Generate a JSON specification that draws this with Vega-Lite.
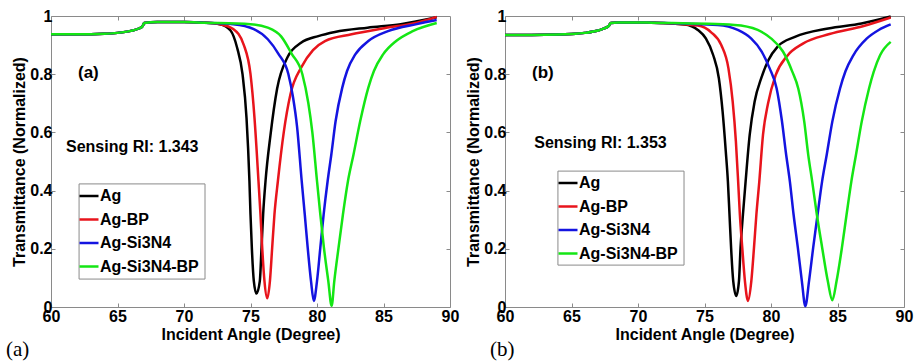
{
  "$schema": "https://vega.github.io/schema/vega-lite/v6.json",
  "background": "white",
  "padding": {"left": 5, "top": 7, "right": 2, "bottom": 0},
  "config": {
    "view": {"stroke": "#8a8a8a", "strokeWidth": 1},
    "font": "Liberation Sans",
    "axis": {"grid": false, "domain": false, "tickColor": "#8a8a8a", "tickSize": -4, "tickWidth": 1,
      "labelFont": "Liberation Sans", "labelFontSize": 16, "labelFontWeight": "bold", "labelColor": "black",
      "titleFont": "Liberation Sans", "titleFontSize": 16, "titleFontWeight": "bold", "titleColor": "black",
      "labelFlush": false, "labelOverlap": false},
    "axisX": {"labelPadding": 5, "titlePadding": 2},
    "axisY": {"labelPadding": 3, "titlePadding": 2},
    "legend": {"symbolType": "stroke", "symbolSize": 361, "symbolStrokeWidth": 2.5,
      "labelFont": "Liberation Sans", "labelFontSize": 16, "labelFontWeight": "bold", "labelColor": "black",
      "padding": 4, "rowPadding": 4.5, "labelOffset": 0, "labelLimit": 0}
  },
  "datasets": {
    "a": [
      {"series":"Ag","angle":60,"T":0.937},{"series":"Ag","angle":62,"T":0.937},{"series":"Ag","angle":64,"T":0.939},{"series":"Ag","angle":65,"T":0.942},{"series":"Ag","angle":66,"T":0.949},{"series":"Ag","angle":66.6,"T":0.957},{"series":"Ag","angle":66.9,"T":0.966},{"series":"Ag","angle":67,"T":0.976},{"series":"Ag","angle":68,"T":0.979},{"series":"Ag","angle":70,"T":0.979},{"series":"Ag","angle":71.5,"T":0.977},{"series":"Ag","angle":72.7,"T":0.972},{"series":"Ag","angle":73.5,"T":0.95},{"series":"Ag","angle":74,"T":0.89},{"series":"Ag","angle":74.4,"T":0.8},{"series":"Ag","angle":74.7,"T":0.65},{"series":"Ag","angle":74.92,"T":0.433},{"series":"Ag","angle":75,"T":0.318},{"series":"Ag","angle":75.1,"T":0.204},{"series":"Ag","angle":75.25,"T":0.089},{"series":"Ag","angle":75.45,"T":0.046},{"series":"Ag","angle":75.7,"T":0.089},{"series":"Ag","angle":75.83,"T":0.204},{"series":"Ag","angle":75.95,"T":0.318},{"series":"Ag","angle":76.13,"T":0.433},{"series":"Ag","angle":76.5,"T":0.59},{"series":"Ag","angle":77,"T":0.75},{"series":"Ag","angle":77.8,"T":0.86},{"series":"Ag","angle":78.8,"T":0.908},{"series":"Ag","angle":80.1,"T":0.931},{"series":"Ag","angle":81.35,"T":0.945},{"series":"Ag","angle":83.8,"T":0.96},{"series":"Ag","angle":86.3,"T":0.972},{"series":"Ag","angle":89,"T":0.996},
      {"series":"Ag-BP","angle":60,"T":0.937},{"series":"Ag-BP","angle":62,"T":0.937},{"series":"Ag-BP","angle":64,"T":0.939},{"series":"Ag-BP","angle":65,"T":0.942},{"series":"Ag-BP","angle":66,"T":0.949},{"series":"Ag-BP","angle":66.6,"T":0.957},{"series":"Ag-BP","angle":66.9,"T":0.966},{"series":"Ag-BP","angle":67,"T":0.976},{"series":"Ag-BP","angle":68,"T":0.979},{"series":"Ag-BP","angle":70,"T":0.979},{"series":"Ag-BP","angle":71.5,"T":0.977},{"series":"Ag-BP","angle":72.7,"T":0.972},{"series":"Ag-BP","angle":73.7,"T":0.955},{"series":"Ag-BP","angle":74.5,"T":0.9},{"series":"Ag-BP","angle":75,"T":0.8},{"series":"Ag-BP","angle":75.3,"T":0.65},{"series":"Ag-BP","angle":75.6,"T":0.433},{"series":"Ag-BP","angle":75.75,"T":0.318},{"series":"Ag-BP","angle":75.88,"T":0.204},{"series":"Ag-BP","angle":76.05,"T":0.089},{"series":"Ag-BP","angle":76.26,"T":0.03},{"series":"Ag-BP","angle":76.46,"T":0.089},{"series":"Ag-BP","angle":76.63,"T":0.204},{"series":"Ag-BP","angle":76.8,"T":0.318},{"series":"Ag-BP","angle":77.06,"T":0.433},{"series":"Ag-BP","angle":77.5,"T":0.6},{"series":"Ag-BP","angle":78,"T":0.73},{"series":"Ag-BP","angle":78.85,"T":0.826},{"series":"Ag-BP","angle":79.7,"T":0.883},{"series":"Ag-BP","angle":80.6,"T":0.914},{"series":"Ag-BP","angle":82.6,"T":0.937},{"series":"Ag-BP","angle":85.05,"T":0.958},{"series":"Ag-BP","angle":87.5,"T":0.977},{"series":"Ag-BP","angle":89,"T":0.997},
      {"series":"Ag-Si3N4","angle":60,"T":0.937},{"series":"Ag-Si3N4","angle":62,"T":0.937},{"series":"Ag-Si3N4","angle":64,"T":0.939},{"series":"Ag-Si3N4","angle":65,"T":0.942},{"series":"Ag-Si3N4","angle":66,"T":0.949},{"series":"Ag-Si3N4","angle":66.6,"T":0.957},{"series":"Ag-Si3N4","angle":66.9,"T":0.966},{"series":"Ag-Si3N4","angle":67,"T":0.976},{"series":"Ag-Si3N4","angle":68,"T":0.979},{"series":"Ag-Si3N4","angle":70,"T":0.979},{"series":"Ag-Si3N4","angle":71.5,"T":0.977},{"series":"Ag-Si3N4","angle":73.7,"T":0.972},{"series":"Ag-Si3N4","angle":75.25,"T":0.955},{"series":"Ag-Si3N4","angle":76.3,"T":0.92},{"series":"Ag-Si3N4","angle":77.1,"T":0.87},{"series":"Ag-Si3N4","angle":77.85,"T":0.8},{"series":"Ag-Si3N4","angle":78.2,"T":0.72},{"series":"Ag-Si3N4","angle":78.5,"T":0.62},{"series":"Ag-Si3N4","angle":78.85,"T":0.433},{"series":"Ag-Si3N4","angle":79.08,"T":0.318},{"series":"Ag-Si3N4","angle":79.3,"T":0.204},{"series":"Ag-Si3N4","angle":79.55,"T":0.089},{"series":"Ag-Si3N4","angle":79.76,"T":0.021},{"series":"Ag-Si3N4","angle":80,"T":0.089},{"series":"Ag-Si3N4","angle":80.25,"T":0.204},{"series":"Ag-Si3N4","angle":80.5,"T":0.318},{"series":"Ag-Si3N4","angle":80.8,"T":0.433},{"series":"Ag-Si3N4","angle":81.08,"T":0.525},{"series":"Ag-Si3N4","angle":81.4,"T":0.639},{"series":"Ag-Si3N4","angle":81.9,"T":0.754},{"series":"Ag-Si3N4","angle":82.26,"T":0.811},{"series":"Ag-Si3N4","angle":82.88,"T":0.868},{"series":"Ag-Si3N4","angle":83.86,"T":0.914},{"series":"Ag-Si3N4","angle":85.34,"T":0.948},{"series":"Ag-Si3N4","angle":87.5,"T":0.972},{"series":"Ag-Si3N4","angle":89,"T":0.986},
      {"series":"Ag-Si3N4-BP","angle":60,"T":0.937},{"series":"Ag-Si3N4-BP","angle":62,"T":0.937},{"series":"Ag-Si3N4-BP","angle":64,"T":0.939},{"series":"Ag-Si3N4-BP","angle":65,"T":0.942},{"series":"Ag-Si3N4-BP","angle":66,"T":0.949},{"series":"Ag-Si3N4-BP","angle":66.6,"T":0.957},{"series":"Ag-Si3N4-BP","angle":66.9,"T":0.966},{"series":"Ag-Si3N4-BP","angle":67,"T":0.976},{"series":"Ag-Si3N4-BP","angle":68,"T":0.979},{"series":"Ag-Si3N4-BP","angle":70,"T":0.979},{"series":"Ag-Si3N4-BP","angle":71.5,"T":0.977},{"series":"Ag-Si3N4-BP","angle":75,"T":0.972},{"series":"Ag-Si3N4-BP","angle":76.3,"T":0.96},{"series":"Ag-Si3N4-BP","angle":77.3,"T":0.93},{"series":"Ag-Si3N4-BP","angle":78.1,"T":0.87},{"series":"Ag-Si3N4-BP","angle":78.9,"T":0.8},{"series":"Ag-Si3N4-BP","angle":79.35,"T":0.7},{"series":"Ag-Si3N4-BP","angle":79.65,"T":0.6},{"series":"Ag-Si3N4-BP","angle":80,"T":0.433},{"series":"Ag-Si3N4-BP","angle":80.25,"T":0.318},{"series":"Ag-Si3N4-BP","angle":80.52,"T":0.204},{"series":"Ag-Si3N4-BP","angle":80.85,"T":0.089},{"series":"Ag-Si3N4-BP","angle":81.1,"T":0.004},{"series":"Ag-Si3N4-BP","angle":81.3,"T":0.089},{"series":"Ag-Si3N4-BP","angle":81.62,"T":0.204},{"series":"Ag-Si3N4-BP","angle":81.95,"T":0.318},{"series":"Ag-Si3N4-BP","angle":82.33,"T":0.433},{"series":"Ag-Si3N4-BP","angle":82.75,"T":0.525},{"series":"Ag-Si3N4-BP","angle":83.25,"T":0.639},{"series":"Ag-Si3N4-BP","angle":83.86,"T":0.754},{"series":"Ag-Si3N4-BP","angle":84.28,"T":0.811},{"series":"Ag-Si3N4-BP","angle":84.97,"T":0.868},{"series":"Ag-Si3N4-BP","angle":85.95,"T":0.914},{"series":"Ag-Si3N4-BP","angle":87.2,"T":0.948},{"series":"Ag-Si3N4-BP","angle":89,"T":0.976}
    ],
    "b": [
      {"series":"Ag","angle":60,"T":0.935},{"series":"Ag","angle":62,"T":0.935},{"series":"Ag","angle":64,"T":0.936},{"series":"Ag","angle":65,"T":0.938},{"series":"Ag","angle":66,"T":0.942},{"series":"Ag","angle":67,"T":0.95},{"series":"Ag","angle":67.5,"T":0.958},{"series":"Ag","angle":67.8,"T":0.966},{"series":"Ag","angle":67.95,"T":0.976},{"series":"Ag","angle":68.5,"T":0.978},{"series":"Ag","angle":70,"T":0.978},{"series":"Ag","angle":71,"T":0.977},{"series":"Ag","angle":73.5,"T":0.971},{"series":"Ag","angle":74.5,"T":0.952},{"series":"Ag","angle":75.1,"T":0.923},{"series":"Ag","angle":75.65,"T":0.866},{"series":"Ag","angle":76.08,"T":0.786},{"series":"Ag","angle":76.36,"T":0.672},{"series":"Ag","angle":76.6,"T":0.535},{"series":"Ag","angle":76.76,"T":0.431},{"series":"Ag","angle":76.88,"T":0.317},{"series":"Ag","angle":77,"T":0.203},{"series":"Ag","angle":77.16,"T":0.089},{"series":"Ag","angle":77.39,"T":0.038},{"series":"Ag","angle":77.59,"T":0.089},{"series":"Ag","angle":77.71,"T":0.203},{"series":"Ag","angle":77.89,"T":0.317},{"series":"Ag","angle":78.09,"T":0.431},{"series":"Ag","angle":78.4,"T":0.592},{"series":"Ag","angle":78.77,"T":0.706},{"series":"Ag","angle":79.28,"T":0.788},{"series":"Ag","angle":79.8,"T":0.848},{"series":"Ag","angle":80.5,"T":0.895},{"series":"Ag","angle":81.8,"T":0.928},{"series":"Ag","angle":84.3,"T":0.957},{"series":"Ag","angle":86.8,"T":0.974},{"series":"Ag","angle":89,"T":0.998},
      {"series":"Ag-BP","angle":60,"T":0.935},{"series":"Ag-BP","angle":62,"T":0.935},{"series":"Ag-BP","angle":64,"T":0.936},{"series":"Ag-BP","angle":65,"T":0.938},{"series":"Ag-BP","angle":66,"T":0.942},{"series":"Ag-BP","angle":67,"T":0.95},{"series":"Ag-BP","angle":67.5,"T":0.958},{"series":"Ag-BP","angle":67.8,"T":0.966},{"series":"Ag-BP","angle":67.95,"T":0.976},{"series":"Ag-BP","angle":68.5,"T":0.978},{"series":"Ag-BP","angle":70,"T":0.978},{"series":"Ag-BP","angle":71,"T":0.977},{"series":"Ag-BP","angle":74.5,"T":0.967},{"series":"Ag-BP","angle":75.5,"T":0.944},{"series":"Ag-BP","angle":76.26,"T":0.9},{"series":"Ag-BP","angle":76.8,"T":0.82},{"series":"Ag-BP","angle":77.12,"T":0.706},{"series":"Ag-BP","angle":77.36,"T":0.569},{"series":"Ag-BP","angle":77.53,"T":0.431},{"series":"Ag-BP","angle":77.66,"T":0.317},{"series":"Ag-BP","angle":77.84,"T":0.203},{"series":"Ag-BP","angle":78.04,"T":0.089},{"series":"Ag-BP","angle":78.27,"T":0.021},{"series":"Ag-BP","angle":78.52,"T":0.089},{"series":"Ag-BP","angle":78.72,"T":0.203},{"series":"Ag-BP","angle":78.9,"T":0.317},{"series":"Ag-BP","angle":79.12,"T":0.431},{"series":"Ag-BP","angle":79.4,"T":0.592},{"series":"Ag-BP","angle":79.78,"T":0.7},{"series":"Ag-BP","angle":80.35,"T":0.797},{"series":"Ag-BP","angle":81.2,"T":0.862},{"series":"Ag-BP","angle":82.4,"T":0.905},{"series":"Ag-BP","angle":84.4,"T":0.938},{"series":"Ag-BP","angle":86.9,"T":0.965},{"series":"Ag-BP","angle":89,"T":0.995},
      {"series":"Ag-Si3N4","angle":60,"T":0.935},{"series":"Ag-Si3N4","angle":62,"T":0.935},{"series":"Ag-Si3N4","angle":64,"T":0.936},{"series":"Ag-Si3N4","angle":65,"T":0.938},{"series":"Ag-Si3N4","angle":66,"T":0.942},{"series":"Ag-Si3N4","angle":67,"T":0.95},{"series":"Ag-Si3N4","angle":67.5,"T":0.958},{"series":"Ag-Si3N4","angle":67.8,"T":0.966},{"series":"Ag-Si3N4","angle":67.95,"T":0.976},{"series":"Ag-Si3N4","angle":68.5,"T":0.978},{"series":"Ag-Si3N4","angle":70,"T":0.978},{"series":"Ag-Si3N4","angle":71,"T":0.977},{"series":"Ag-Si3N4","angle":76,"T":0.969},{"series":"Ag-Si3N4","angle":77.5,"T":0.952},{"series":"Ag-Si3N4","angle":78.5,"T":0.923},{"series":"Ag-Si3N4","angle":79.3,"T":0.878},{"series":"Ag-Si3N4","angle":79.9,"T":0.82},{"series":"Ag-Si3N4","angle":80.42,"T":0.752},{"series":"Ag-Si3N4","angle":80.82,"T":0.64},{"series":"Ag-Si3N4","angle":81.12,"T":0.53},{"series":"Ag-Si3N4","angle":81.42,"T":0.431},{"series":"Ag-Si3N4","angle":81.7,"T":0.317},{"series":"Ag-Si3N4","angle":82.02,"T":0.203},{"series":"Ag-Si3N4","angle":82.32,"T":0.089},{"series":"Ag-Si3N4","angle":82.58,"T":0.003},{"series":"Ag-Si3N4","angle":82.86,"T":0.089},{"series":"Ag-Si3N4","angle":83.17,"T":0.203},{"series":"Ag-Si3N4","angle":83.5,"T":0.317},{"series":"Ag-Si3N4","angle":83.84,"T":0.431},{"series":"Ag-Si3N4","angle":84.19,"T":0.523},{"series":"Ag-Si3N4","angle":84.61,"T":0.637},{"series":"Ag-Si3N4","angle":85.19,"T":0.751},{"series":"Ag-Si3N4","angle":85.6,"T":0.81},{"series":"Ag-Si3N4","angle":86.19,"T":0.865},{"series":"Ag-Si3N4","angle":87.19,"T":0.922},{"series":"Ag-Si3N4","angle":88.1,"T":0.952},{"series":"Ag-Si3N4","angle":89,"T":0.971},
      {"series":"Ag-Si3N4-BP","angle":60,"T":0.935},{"series":"Ag-Si3N4-BP","angle":62,"T":0.935},{"series":"Ag-Si3N4-BP","angle":64,"T":0.936},{"series":"Ag-Si3N4-BP","angle":65,"T":0.938},{"series":"Ag-Si3N4-BP","angle":66,"T":0.942},{"series":"Ag-Si3N4-BP","angle":67,"T":0.95},{"series":"Ag-Si3N4-BP","angle":67.5,"T":0.958},{"series":"Ag-Si3N4-BP","angle":67.8,"T":0.966},{"series":"Ag-Si3N4-BP","angle":67.95,"T":0.976},{"series":"Ag-Si3N4-BP","angle":68.5,"T":0.978},{"series":"Ag-Si3N4-BP","angle":70,"T":0.978},{"series":"Ag-Si3N4-BP","angle":71,"T":0.977},{"series":"Ag-Si3N4-BP","angle":77.26,"T":0.969},{"series":"Ag-Si3N4-BP","angle":79,"T":0.952},{"series":"Ag-Si3N4-BP","angle":80,"T":0.923},{"series":"Ag-Si3N4-BP","angle":80.9,"T":0.878},{"series":"Ag-Si3N4-BP","angle":81.6,"T":0.809},{"series":"Ag-Si3N4-BP","angle":82.05,"T":0.751},{"series":"Ag-Si3N4-BP","angle":82.5,"T":0.637},{"series":"Ag-Si3N4-BP","angle":82.8,"T":0.523},{"series":"Ag-Si3N4-BP","angle":83.1,"T":0.431},{"series":"Ag-Si3N4-BP","angle":83.45,"T":0.317},{"series":"Ag-Si3N4-BP","angle":83.85,"T":0.203},{"series":"Ag-Si3N4-BP","angle":84.27,"T":0.089},{"series":"Ag-Si3N4-BP","angle":84.61,"T":0.023},{"series":"Ag-Si3N4-BP","angle":84.93,"T":0.089},{"series":"Ag-Si3N4-BP","angle":85.33,"T":0.203},{"series":"Ag-Si3N4-BP","angle":85.68,"T":0.317},{"series":"Ag-Si3N4-BP","angle":86.04,"T":0.431},{"series":"Ag-Si3N4-BP","angle":86.39,"T":0.523},{"series":"Ag-Si3N4-BP","angle":86.82,"T":0.637},{"series":"Ag-Si3N4-BP","angle":87.37,"T":0.751},{"series":"Ag-Si3N4-BP","angle":87.72,"T":0.808},{"series":"Ag-Si3N4-BP","angle":88.2,"T":0.865},{"series":"Ag-Si3N4-BP","angle":89,"T":0.911}
    ]
  },
  "bounds": "flush",
  "spacing": 55,
  "resolve": {"legend": {"color": "independent"}},
  "hconcat": [
    {
      "width": 399, "height": 291,
      "layer": [
        {
          "data": {"name": "a"},
          "mark": {"type": "line", "strokeWidth": 2.5, "interpolate": "monotone"},
          "encoding": {
            "x": {"field": "angle", "type": "quantitative", "scale": {"domain": [60, 90], "nice": false, "zero": false}, "axis": {"orient": "bottom", "values": [60, 65, 70, 75, 80, 85, 90], "title": "Incident Angle (Degree)"}},
            "y": {"field": "T", "type": "quantitative", "scale": {"domain": [0, 1], "nice": false}, "axis": {"orient": "left", "values": [0, 0.2, 0.4, 0.6, 0.8, 1], "format": "~g", "title": "Transmittance (Normalized)"}},
            "color": {"field": "series", "type": "nominal", "scale": {"domain": ["Ag", "Ag-BP", "Ag-Si3N4", "Ag-Si3N4-BP"], "range": ["#000000", "#e8141c", "#1414e0", "#14e614"]}, "legend": {"orient": "none", "legendX": 23, "legendY": 165, "title": null}}
          }
        },
        {
          "data": {"values": [{"label": "legend box"}]},
          "mark": {"type": "rect", "fill": "white", "stroke": "#8a8a8a", "strokeWidth": 1},
          "encoding": {
            "x": {"datum": 62.11, "type": "quantitative", "axis": null},
            "x2": {"datum": 71.58},
            "y": {"datum": 0.423, "type": "quantitative", "axis": null},
            "y2": {"datum": 0.096}
          }
        },
        {
          "data": {"values": [{"label": "(a)"}]},
          "mark": {"type": "text", "fontSize": 17, "fontWeight": "bold", "align": "left", "baseline": "middle", "color": "black"},
          "encoding": {
            "x": {"datum": 62.03, "type": "quantitative", "axis": {"orient": "top", "labels": false, "title": null, "values": [65, 70, 75, 80, 85]}},
            "y": {"datum": 0.804, "type": "quantitative", "axis": {"orient": "right", "labels": false, "title": null, "values": [0.2, 0.4, 0.6, 0.8]}},
            "text": {"field": "label"}
          }
        },
        {
          "data": {"values": [{"label": "Sensing RI: 1.343"}]},
          "mark": {"type": "text", "fontSize": 16, "fontWeight": "bold", "align": "left", "baseline": "middle", "color": "black"},
          "encoding": {
            "x": {"datum": 61.13, "type": "quantitative", "axis": null},
            "y": {"datum": 0.551, "type": "quantitative", "axis": null},
            "text": {"field": "label"}
          }
        },
        {
          "data": {"values": [{"label": "(a)"}]},
          "mark": {"type": "text", "font": "Liberation Serif", "fontSize": 21, "align": "left", "baseline": "middle", "color": "black"},
          "encoding": {
            "x": {"datum": 56.62, "type": "quantitative", "axis": null},
            "y": {"datum": -0.148, "type": "quantitative", "axis": null},
            "text": {"field": "label"}
          }
        }
      ],
      "resolve": {"axis": {"x": "independent", "y": "independent"}}
    },
    {
      "width": 399, "height": 291,
      "layer": [
        {
          "data": {"name": "b"},
          "mark": {"type": "line", "strokeWidth": 2.5, "interpolate": "monotone"},
          "encoding": {
            "x": {"field": "angle", "type": "quantitative", "scale": {"domain": [60, 90], "nice": false, "zero": false}, "axis": {"orient": "bottom", "values": [60, 65, 70, 75, 80, 85, 90], "title": "Incident Angle (Degree)"}},
            "y": {"field": "T", "type": "quantitative", "scale": {"domain": [0, 1], "nice": false}, "axis": {"orient": "left", "values": [0, 0.2, 0.4, 0.6, 0.8, 1], "format": "~g", "title": "Transmittance (Normalized)"}},
            "color": {"field": "series", "type": "nominal", "scale": {"domain": ["Ag", "Ag-BP", "Ag-Si3N4", "Ag-Si3N4-BP"], "range": ["#000000", "#e8141c", "#1414e0", "#14e614"]}, "legend": {"orient": "none", "legendX": 48, "legendY": 152, "title": null}}
          }
        },
        {
          "data": {"values": [{"label": "legend box"}]},
          "mark": {"type": "rect", "fill": "white", "stroke": "#8a8a8a", "strokeWidth": 1},
          "encoding": {
            "x": {"datum": 63.98, "type": "quantitative", "axis": null},
            "x2": {"datum": 73.46},
            "y": {"datum": 0.467, "type": "quantitative", "axis": null},
            "y2": {"datum": 0.144}
          }
        },
        {
          "data": {"values": [{"label": "(b)"}]},
          "mark": {"type": "text", "fontSize": 17, "fontWeight": "bold", "align": "left", "baseline": "middle", "color": "black"},
          "encoding": {
            "x": {"datum": 62.03, "type": "quantitative", "axis": {"orient": "top", "labels": false, "title": null, "values": [65, 70, 75, 80, 85]}},
            "y": {"datum": 0.805, "type": "quantitative", "axis": {"orient": "right", "labels": false, "title": null, "values": [0.2, 0.4, 0.6, 0.8]}},
            "text": {"field": "label"}
          }
        },
        {
          "data": {"values": [{"label": "Sensing RI: 1.353"}]},
          "mark": {"type": "text", "fontSize": 16, "fontWeight": "bold", "align": "left", "baseline": "middle", "color": "black"},
          "encoding": {
            "x": {"datum": 62.2, "type": "quantitative", "axis": null},
            "y": {"datum": 0.563, "type": "quantitative", "axis": null},
            "text": {"field": "label"}
          }
        },
        {
          "data": {"values": [{"label": "(b)"}]},
          "mark": {"type": "text", "font": "Liberation Serif", "fontSize": 21, "align": "left", "baseline": "middle", "color": "black"},
          "encoding": {
            "x": {"datum": 58.87, "type": "quantitative", "axis": null},
            "y": {"datum": -0.148, "type": "quantitative", "axis": null},
            "text": {"field": "label"}
          }
        }
      ],
      "resolve": {"axis": {"x": "independent", "y": "independent"}}
    }
  ]
}
